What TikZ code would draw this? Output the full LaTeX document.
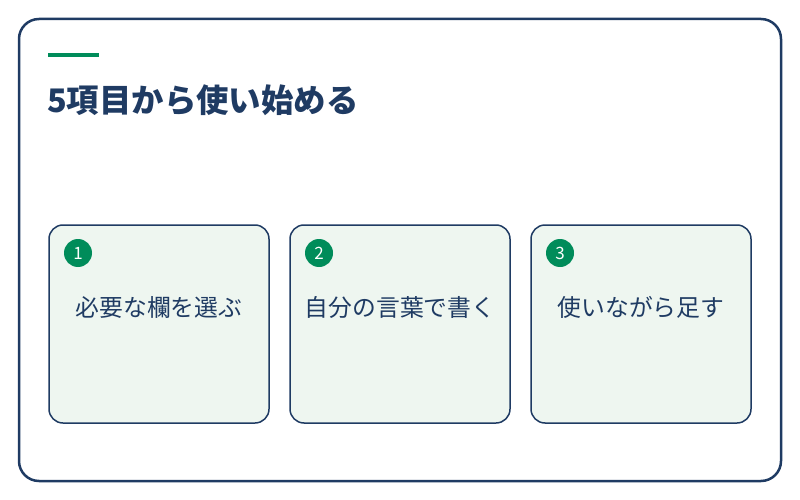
\documentclass[tikz,border=0pt]{standalone}
\usepackage{fontspec}
\newfontfamily\cjk{Noto Sans CJK JP}
\usepackage{xcolor}
\usetikzlibrary{positioning}
\definecolor{navy}{HTML}{1F3B63}
\definecolor{leaf}{HTML}{008C5A}
\definecolor{mint}{HTML}{EEF6F0}

\begin{document}
\begin{tikzpicture}[x=1pt,y=-1pt,
    card/.style={draw=navy, line width=1.5pt, fill=mint, rounded corners=14pt,
                 minimum width=220pt, minimum height=198pt, outer sep=0pt,
                 anchor=north west},
    badge/.style={circle, fill=leaf, minimum size=28pt, inner sep=0pt,
                  text=white, font=\cjk\fontsize{17}{17}\selectfont},
    label/.style={text=navy, font=\cjk\fontsize{23.8}{26}\selectfont}]
    \useasboundingbox (0,0) rectangle (800,500);

    % Frame and heading
    \draw[navy, line width=2.5pt, rounded corners=20pt] (19,19) rectangle (781,481);
    \fill[leaf] (48,53) rectangle (99,57.5);
    \node[anchor=base west, inner sep=0pt, text=navy,
          font=\cjk\bfseries\fontsize{32.4}{36}\selectfont] (title) at (47,113) {5項目から使い始める};

    % Cards
    \node[card] (c1) at (49,225) {};
    \node[card, right=21pt of c1] (c2) {};
    \node[card, right=21pt of c2] (c3) {};

    % Badges and texts
    \foreach \i/\txt in {1/必要な欄を選ぶ, 2/自分の言葉で書く, 3/使いながら足す} {
        \node[badge] (b\i) at ([xshift=29pt,yshift=-28pt]c\i.north west) {\i};
        \node[label] (t\i) at ([yshift=-82pt]c\i.north) {\txt};
    }
\end{tikzpicture}
\end{document}
